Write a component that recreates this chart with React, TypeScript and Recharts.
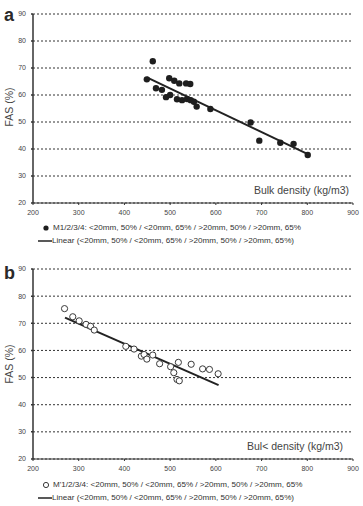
import {
  ComposedChart,
  Scatter,
  Line,
  XAxis,
  YAxis,
  CartesianGrid,
} from 'recharts';

// Panel a: filled markers
const densityA = [449, 462, 469, 482, 491, 498, 500, 509, 515, 520, 526, 535, 537, 544, 545, 552, 558, 588, 676, 695, 741, 770, 801];
const fasA = [65.8, 72.5, 62.5, 61.9, 59.2, 66.2, 60.0, 65.3, 58.4, 64.3, 58.1, 64.3, 58.5, 64.1, 58.1, 57.5, 55.7, 54.8, 49.8, 43.1, 42.3, 41.9, 37.8];
const trendDensityA = [449, 800];
const trendFasA = [66.5, 38.2];

// Panel b: open markers
const densityB = [269, 287, 301, 316, 326, 334, 403, 421, 437, 443, 449, 462, 477, 501, 508, 515, 520, 518, 546, 571, 586, 605];
const fasB = [75.4, 72.4, 70.9, 69.6, 68.9, 67.5, 61.5, 60.5, 57.9, 58.5, 56.8, 58.3, 55.1, 54.0, 51.8, 49.3, 48.8, 55.6, 54.9, 53.2, 53.0, 51.4];
const trendDensityB = [270, 606];
const trendFasB = [72.1, 47.2];

const xTicks = [200, 300, 400, 500, 600, 700, 800, 900];
const yTicks = [20, 30, 40, 50, 60, 70, 80, 90];

const legendPoints = 'M1/2/3/4: <20mm, 50% / <20mm, 65% / >20mm, 50% / >20mm, 65%';
const legendPointsB = "M'1/2/3/4: <20mm, 50% / <20mm, 65% / >20mm, 50% / >20mm, 65%";
const legendLinear = 'Linear (<20mm, 50% / <20mm, 65% / >20mm, 50% / >20mm, 65%)';

const font = '"Liberation Sans", Arial, sans-serif';
const ink = '#333';

const zip = (xs: number[], ys: number[]) => xs.map((x, i) => ({ x, y: ys[i] }));

interface PanelProps {
  top: number;
  plotHeight: number;
  points: { x: number; y: number }[];
  trend: { x: number; y: number }[];
  filled: boolean;
}

function Panel({ top, plotHeight, points, trend, filled }: PanelProps) {
  const tick = { fontSize: 7, fill: '#444', fontFamily: font };
  return (
    <div style={{ position: 'absolute', left: 0, top }}>
      <ComposedChart
        width={363}
        height={14 + plotHeight + 19}
        margin={{ top: 14, right: 10, bottom: 0, left: 0 }}
      >
        <CartesianGrid
          horizontal
          vertical={false}
          stroke="#333"
          strokeDasharray="2 2"
        />
        <XAxis
          type="number"
          dataKey="x"
          domain={[200, 900]}
          ticks={xTicks}
          height={19}
          tick={tick}
          tickSize={2}
          tickMargin={5}
          stroke={ink}
          allowDataOverflow
        />
        <YAxis
          type="number"
          dataKey="y"
          domain={[20, 90]}
          ticks={yTicks}
          width={33}
          tick={tick}
          tickSize={2}
          tickMargin={5}
          stroke={ink}
          strokeWidth={1.5}
        />
        <Scatter
          data={points}
          dataKey="y"
          isAnimationActive={false}
          shape={(p: any) =>
            filled ? (
              <circle cx={p.cx} cy={p.cy} r={3.2} fill="#1e1e1e" />
            ) : (
              <circle cx={p.cx} cy={p.cy} r={3.1} fill="#fff" stroke="#3a3a3a" strokeWidth={1} />
            )
          }
        />
        <Line
          data={trend}
          dataKey="y"
          type="linear"
          stroke="#222"
          strokeWidth={2}
          dot={false}
          isAnimationActive={false}
        />
      </ComposedChart>
    </div>
  );
}

function Legend({ top, filled, text }: { top: number; filled: boolean; text: string }) {
  const row: React.CSSProperties = {
    position: 'absolute',
    left: 38,
    fontSize: 8.1,
    color: ink,
    whiteSpace: 'nowrap',
    display: 'flex',
    alignItems: 'center',
    lineHeight: '10px',
  };
  return (
    <>
      <div style={{ ...row, top: top - 5 }}>
        <svg width={15} height={10}>
          {filled ? (
            <circle cx={8} cy={5} r={2.6} fill="#1e1e1e" />
          ) : (
            <circle cx={8} cy={5} r={2.6} fill="#fff" stroke="#3a3a3a" strokeWidth={1} />
          )}
        </svg>
        <span>{text}</span>
      </div>
      <div style={{ ...row, top: top + 8 }}>
        <svg width={14} height={10}>
          <line x1={0} y1={5} x2={14} y2={5} stroke="#222" strokeWidth={1.5} />
        </svg>
        <span>{legendLinear}</span>
      </div>
    </>
  );
}

const letter: React.CSSProperties = {
  position: 'absolute',
  left: 4,
  fontSize: 18,
  fontWeight: 'bold',
  color: '#2a2a2a',
  lineHeight: '18px',
};

const yTitle: React.CSSProperties = {
  position: 'absolute',
  left: 9,
  fontSize: 10.5,
  color: '#444',
  whiteSpace: 'nowrap',
  transform: 'translate(-50%, -50%) rotate(-90deg)',
};

const xTitle: React.CSSProperties = {
  position: 'absolute',
  right: 14,
  fontSize: 10.5,
  color: '#444',
  whiteSpace: 'nowrap',
};

export default function App() {
  return (
    <div
      style={{
        position: 'absolute',
        left: 0,
        top: 0,
        width: 363,
        height: 506,
        background: '#fff',
        fontFamily: font,
        overflow: 'hidden',
      }}
    >
      <Panel
        top={0}
        plotHeight={189}
        points={zip(densityA, fasA)}
        trend={zip(trendDensityA, trendFasA)}
        filled
      />
      <div style={{ ...letter, top: 6 }}>a</div>
      <div style={{ ...yTitle, top: 107 }}>FAS (%)</div>
      <div style={{ ...xTitle, top: 184 }}>Bulk density (kg/m3)</div>
      <Legend top={228} filled text={legendPoints} />

      <Panel
        top={255}
        plotHeight={190}
        points={zip(densityB, fasB)}
        trend={zip(trendDensityB, trendFasB)}
        filled={false}
      />
      <div style={{ ...letter, top: 264 }}>b</div>
      <div style={{ ...yTitle, top: 364 }}>FAS (%)</div>
      <div style={{ ...xTitle, top: 440, right: 20 }}>Bul&lt; density (kg/m3)</div>
      <Legend top={485} filled={false} text={legendPointsB} />
    </div>
  );
}
